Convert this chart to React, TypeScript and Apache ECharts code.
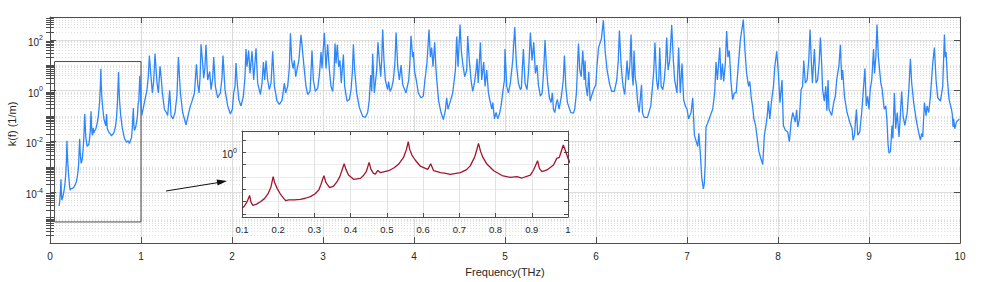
import React, { useEffect, useRef } from "react";
import * as echarts from "echarts";

// Spectrum: [frequency (THz), log10 of k(f) in 1/m]
const band0to1: [number, number][] = [
  [0.100, -4.54], [0.107, -4.35], [0.114, -4.0], [0.121, -3.49], [0.125, -4.05], [0.130, -4.3], [0.140, -4.2],
  [0.151, -4.0], [0.162, -3.75], [0.172, -3.35], [0.180, -2.8], [0.186, -1.97], [0.190, -2.45], [0.197, -2.92],
  [0.206, -3.38], [0.215, -3.73], [0.221, -3.92], [0.229, -3.86], [0.245, -3.85], [0.261, -3.81], [0.275, -3.72],
  [0.289, -3.59], [0.302, -3.35], [0.312, -3.05], [0.318, -2.6], [0.326, -1.89], [0.332, -2.46], [0.342, -2.86],
  [0.353, -2.73], [0.362, -2.4], [0.370, -1.97], [0.376, -1.45], [0.382, -0.92], [0.387, -1.38], [0.394, -1.84],
  [0.408, -2.19], [0.427, -2.11], [0.436, -1.85], [0.443, -1.57], [0.451, -0.81], [0.456, -1.38], [0.463, -1.7],
  [0.468, -1.76], [0.475, -1.46], [0.482, -1.65], [0.505, -1.49], [0.520, -1.25], [0.532, -0.97], [0.546, -0.41],
  [0.554, 0.24], [0.559, 0.86], [0.563, 0.24], [0.569, -0.22], [0.578, -0.62], [0.592, -1.11], [0.613, -1.38],
  [0.621, -0.92], [0.629, -1.49], [0.648, -1.65], [0.659, -1.68], [0.675, -1.78], [0.703, -1.65], [0.720, -1.4],
  [0.730, -1.1], [0.742, -0.41], [0.748, 0.19], [0.753, 0.73], [0.758, 0.14], [0.765, -0.41], [0.776, -0.95],
  [0.795, -1.49], [0.818, -1.88], [0.841, -2.03], [0.859, -1.97], [0.873, -2.08], [0.896, -1.84], [0.905, -1.43],
  [0.916, -0.68], [0.921, -1.3], [0.928, -1.57], [0.942, -1.43], [0.960, -1.03], [0.969, -0.49], [0.976, -0.41],
  [0.981, 0.05], [0.987, 0.59], [0.994, 0.05], [1.000, -0.49],
];
const band1to2: [number, number][] = [
  [1.008, -0.98], [1.037, -0.47], [1.066, 0.04], [1.080, 0.55], [1.092, 1.38], [1.110, 0.55], [1.125, -0.09],
  [1.140, 0.4], [1.154, 1.45], [1.176, 0.3], [1.191, -0.09], [1.209, 0.96], [1.224, 0.42], [1.235, -0.09],
  [1.257, -0.73], [1.279, -0.86], [1.293, -0.98], [1.315, 0.01], [1.330, -0.98], [1.352, -1.11], [1.374, -0.86],
  [1.395, -0.2], [1.411, 1.32], [1.433, -0.09], [1.458, -0.86], [1.495, -1.35], [1.521, -0.92], [1.543, -0.6],
  [1.561, -0.41], [1.587, -0.09], [1.609, 1.04], [1.624, 0.23], [1.638, -0.09], [1.650, 0.6], [1.660, 1.83],
  [1.675, 1.19], [1.689, 0.49], [1.702, 0.9], [1.714, 1.81], [1.733, 0.42], [1.755, 0.75], [1.770, 0.04],
  [1.788, 0.5], [1.799, 1.32], [1.817, 0.17], [1.843, -0.28], [1.872, -0.09], [1.890, 0.5], [1.901, 1.38],
  [1.923, 0.04], [1.953, -0.6], [1.982, -0.92],
];
const band2to3: [number, number][] = [
  [2.004, -0.73], [2.019, -0.09], [2.033, 0.17], [2.044, 1.09], [2.055, 0.42], [2.074, -0.35], [2.099, -0.6],
  [2.125, -0.22], [2.142, 0.5], [2.154, 1.64], [2.165, 0.94], [2.183, 1.58], [2.198, 0.68], [2.220, 1.55],
  [2.238, 0.42], [2.264, 1.67], [2.282, 0.3], [2.312, -0.15], [2.330, 0.3], [2.345, 1.13], [2.359, 0.42],
  [2.374, 1.19], [2.392, 0.42], [2.410, 0.04], [2.429, 0.3], [2.447, 1.55], [2.466, 0.17], [2.495, -0.41],
  [2.520, -0.54], [2.550, -0.38], [2.576, 0.3], [2.590, -0.09], [2.612, 0.17], [2.630, 0.9], [2.642, 2.26],
  [2.656, 1.19], [2.671, 0.87], [2.685, 1.19], [2.700, 0.55], [2.735, 1.2], [2.758, 2.2], [2.795, 0.81],
  [2.813, 0.17], [2.832, -0.15], [2.858, -0.03], [2.879, 1.58], [2.894, 0.42], [2.916, -0.03], [2.942, 0.1],
  [2.960, 0.62], [2.978, 1.52], [2.989, 0.87],
];
const band3to4: [number, number][] = [
  [3.015, 2.28], [3.033, 0.87], [3.051, 1.83], [3.070, 0.81], [3.088, 0.17], [3.106, -0.03], [3.120, 0.6],
  [3.132, 1.86], [3.143, 1.07], [3.157, 1.81], [3.172, 0.94], [3.186, 1.19], [3.201, 0.3], [3.224, 1.42],
  [3.238, 0.17], [3.264, -0.41], [3.290, -0.35], [3.308, 0.04], [3.322, 0.7], [3.334, 1.83], [3.348, 0.81],
  [3.370, -0.09], [3.400, -0.67], [3.436, -1.01], [3.466, -1.05], [3.491, -0.86], [3.509, -0.35], [3.524, 0.62],
  [3.535, -0.03], [3.546, 1.45], [3.564, -0.09], [3.590, 0.81], [3.604, 1.9], [3.619, 1.19], [3.634, 0.55],
  [3.645, 1.2], [3.656, 2.41], [3.670, 1.19], [3.685, 0.42], [3.710, 0.04], [3.721, 0.36], [3.736, -0.03],
  [3.754, 0.1], [3.773, 0.42], [3.790, 1.1], [3.803, 2.29], [3.821, 0.94], [3.839, 0.42], [3.858, 1.01],
  [3.876, 0.23], [3.912, -0.09], [3.942, 0.42], [3.955, 1.1], [3.967, 2.16], [3.985, 1.32], [3.993, 1.52],
];
const band4to5: [number, number][] = [
  [4.007, 0.74], [4.025, 0.42], [4.047, -0.09], [4.077, -0.28], [4.102, -0.22], [4.120, 0.42], [4.142, 1.07],
  [4.165, 2.41], [4.180, 1.32], [4.194, 1.7], [4.209, 0.94], [4.227, 1.9], [4.242, 0.81], [4.253, 0.3],
  [4.271, -0.41], [4.297, -0.86], [4.322, -1.14], [4.344, -0.79], [4.359, -0.28], [4.373, -0.73], [4.395, -0.47],
  [4.425, -0.09], [4.455, 0.81], [4.470, 2.13], [4.484, 0.94], [4.506, 2.6], [4.520, 1.58], [4.535, 1.07],
  [4.557, 0.55], [4.579, 0.81], [4.590, 2.15], [4.608, 1.19], [4.627, 0.42], [4.645, -0.03], [4.664, 0.3],
  [4.682, 0.81], [4.693, 1.26], [4.705, 0.3], [4.730, 1.9], [4.744, 0.42], [4.766, 1.13], [4.781, 0.17],
  [4.799, 0.81], [4.818, -0.09], [4.836, -0.41], [4.855, -0.73], [4.866, -0.47], [4.884, -1.11], [4.902, -0.86],
  [4.920, -1.11], [4.939, -0.92], [4.957, -0.6], [4.979, 0.04], [4.994, 0.42],
];
const band5to6: [number, number][] = [
  [5.000, 1.64], [5.019, 0.17], [5.037, -0.09], [5.059, 0.3], [5.085, 1.2], [5.107, 2.5], [5.125, 1.07],
  [5.147, 0.3], [5.169, 0.04], [5.180, 0.1], [5.202, 1.64], [5.220, 0.3], [5.242, 0.04], [5.260, 0.81],
  [5.279, 2.29], [5.297, 1.19], [5.316, 1.9], [5.334, 0.68], [5.352, 1.01], [5.367, 0.23], [5.389, -0.22],
  [5.408, -0.09], [5.425, 0.8], [5.440, 1.99], [5.455, 0.94], [5.469, 0.3], [5.488, -0.28], [5.506, -0.47],
  [5.521, -0.09], [5.532, -0.73], [5.547, -0.86], [5.565, -0.47], [5.576, -0.35], [5.594, -0.73], [5.620, -0.22],
  [5.640, 0.4], [5.653, 1.38], [5.668, 0.17], [5.686, -0.47], [5.723, -0.86], [5.752, -0.88], [5.766, -0.73],
  [5.785, -0.09], [5.807, 1.86], [5.822, 0.81], [5.837, 0.55], [5.855, 1.58], [5.870, 0.42], [5.880, 1.19],
  [5.888, 0.23], [5.906, -0.22], [5.921, 0.74], [5.935, -0.41], [5.961, -0.09], [5.980, 0.1], [5.998, 0.23],
];
const band6to7: [number, number][] = [
  [6.010, 0.94], [6.028, 1.7], [6.060, 2.05], [6.081, 2.77], [6.100, 1.58], [6.122, 0.81], [6.147, 0.3],
  [6.172, -0.03], [6.202, -0.03], [6.228, 0.42], [6.245, 1.2], [6.257, 2.37], [6.275, 1.07], [6.290, 0.42],
  [6.301, 0.1], [6.316, -0.15], [6.341, 1.19], [6.356, 0.42], [6.372, 1.0], [6.385, 2.21], [6.398, 0.6],
  [6.408, 0.2], [6.418, 1.58], [6.430, 0.55], [6.445, 0.17], [6.458, -0.47], [6.474, -0.86], [6.500, 0.23],
  [6.510, -0.86], [6.529, -1.05], [6.566, -1.05], [6.602, -0.6], [6.621, 0.17], [6.635, 0.8], [6.648, 1.9],
  [6.666, 0.42], [6.680, 0.04], [6.690, 0.42], [6.700, 1.7], [6.716, 0.17], [6.734, 0.04], [6.750, 0.42],
  [6.765, 1.1], [6.777, 2.09], [6.792, 0.81], [6.810, 1.19], [6.832, 2.58], [6.850, 1.19], [6.864, 0.42],
  [6.890, -0.09], [6.908, 1.7], [6.926, -0.09], [6.945, 1.07], [6.963, -0.35], [6.981, -0.6],
];
const band7to8: [number, number][] = [
  [7.000, -0.73], [7.018, -1.11], [7.045, -0.85], [7.063, -0.28], [7.081, -1.75], [7.118, -2.2], [7.130, -1.68],
  [7.145, -2.39], [7.162, -3.42], [7.180, -3.87], [7.190, -3.67], [7.200, -2.91], [7.209, -1.43], [7.231, -1.24],
  [7.257, -0.98], [7.282, -0.73], [7.304, -0.09], [7.319, 1.13], [7.334, 0.42], [7.360, 1.7], [7.374, 0.42],
  [7.390, 1.07], [7.403, 0.36], [7.420, 1.0], [7.436, 2.35], [7.450, 1.32], [7.465, 1.58], [7.484, 0.3],
  [7.502, -0.35], [7.520, -0.09], [7.540, -0.09], [7.560, 0.81], [7.585, 1.96], [7.619, 2.8], [7.637, 1.58],
  [7.655, 0.68], [7.677, 0.17], [7.690, 0.36], [7.706, -0.28], [7.720, -0.6], [7.735, -1.11], [7.754, -1.37],
  [7.772, -1.88], [7.790, -2.39], [7.810, -2.65], [7.832, -2.91], [7.850, -1.75], [7.868, -1.37], [7.885, -0.86],
  [7.894, -0.41], [7.910, -1.11], [7.927, -0.47], [7.950, 0.17], [7.965, 0.94], [7.986, 1.55],
];
const band8to9: [number, number][] = [
  [8.004, 0.68], [8.022, -0.47], [8.044, 0.42], [8.059, -1.37], [8.081, -1.56], [8.107, -1.63], [8.125, -2.01],
  [8.144, -1.24], [8.162, -0.86], [8.190, -1.24], [8.205, -0.75], [8.217, -1.43], [8.235, -1.11], [8.254, 0.04],
  [8.270, 0.17], [8.283, 1.19], [8.300, 0.3], [8.320, 0.42], [8.338, 1.2], [8.352, 2.41], [8.367, 1.07],
  [8.378, 0.3], [8.400, 1.64], [8.418, 0.3], [8.435, 0.42], [8.452, 1.1], [8.466, 2.09], [8.480, 1.07],
  [8.490, 0.04], [8.509, -0.41], [8.525, 0.17], [8.537, -0.79], [8.550, 0.42], [8.560, -0.73], [8.590, -0.98],
  [8.612, -0.47], [8.630, -0.22], [8.645, 0.42], [8.670, 1.0], [8.686, 1.81], [8.700, 0.42], [8.711, 0.81],
  [8.730, -0.22], [8.759, -0.86], [8.789, -1.24], [8.814, -1.5], [8.825, -1.95], [8.840, -1.75], [8.862, -0.73],
  [8.876, -1.75], [8.898, -1.63], [8.920, -0.86], [8.955, 0.87], [8.970, -0.6], [8.985, -0.22],
];
const band9to10: [number, number][] = [
  [9.000, -0.73], [9.013, 0.04], [9.030, 0.42], [9.050, 1.64], [9.060, 0.68], [9.075, 1.3], [9.088, 2.6],
  [9.103, 1.32], [9.130, 0.3], [9.145, 0.04], [9.167, -0.73], [9.185, -0.6], [9.196, -1.11], [9.210, -2.14],
  [9.220, -2.46], [9.236, -2.39], [9.253, -1.37], [9.262, -1.88], [9.279, -0.09], [9.293, -1.5], [9.310, -0.86],
  [9.330, -1.82], [9.342, -1.11], [9.359, -0.03], [9.374, -0.98], [9.394, -1.37], [9.420, -0.86], [9.440, 0.17],
  [9.455, 1.26], [9.469, 0.3], [9.491, -0.47], [9.517, -1.11], [9.545, -1.63], [9.565, -1.95], [9.580, -1.68],
  [9.590, -1.82], [9.609, -0.47], [9.627, -0.98], [9.638, -0.6], [9.656, -0.86], [9.675, -0.22], [9.700, 1.07],
  [9.719, 1.7], [9.737, 0.42], [9.755, -0.28], [9.785, -0.41], [9.810, 0.17], [9.829, 2.21], [9.838, 1.32],
  [9.847, 1.52], [9.862, 0.42], [9.880, -0.35], [9.906, -0.73], [9.915, -0.92], [9.924, -1.43], [9.930, -1.11],
  [9.943, -1.5], [9.960, -1.24], [9.993, -1.11],
];

// Axis settings
const mainYLabels = [1e-4, 1e-2, 1, 1e2];
const mainYMajor = [1e-4, 1e-2, 1, 1e2];
const insetYMajor = [1e-5, 1e-4, 1e-3, 1e-2, 1e-1, 1, 10];
const insetYLabels = [1];
const zoomBox = { x0: 0.05, x1: 1.0, y0: 6.8e-6, y1: 14 };

const FONT = "'Liberation Sans', Arial, Helvetica, sans-serif";
const TEXT = "#262626";
const AXIS = "#4d4d4d";
const MAJOR_GRID = "#dcdcdc";
const MINOR_GRID = "#dedede";

export default function App() {
  const ref = useRef<HTMLDivElement>(null);

  useEffect(() => {
    const chart = echarts.init(ref.current!, null, { renderer: "svg" });

    const spectrum = [
      ...band0to1, ...band1to2, ...band2to3, ...band3to4, ...band4to5,
      ...band5to6, ...band6to7, ...band7to8, ...band8to9, ...band9to10,
    ].map(([f, e]) => [f, Math.pow(10, e)]);

    const yMin = 1e-6;
    const yMax = Math.pow(10, 2.9);
    const minorVals: number[] = [];
    for (let e = -6; e <= 2; e++) {
      for (let m = 1; m <= 9; m++) {
        const v = m * Math.pow(10, e);
        if (m === 1 && e % 2 === 0) continue;
        if (v > yMin && v < yMax) minorVals.push(v);
      }
    }

    const supFormatter = (v: number) => {
      const e = Math.round(Math.log10(v));
      return `{b|10}{s|${e}}`;
    };
    const rich = {
      b: { fontSize: 10, color: TEXT, fontFamily: FONT, padding: [5, 0, 0, 0] },
      s: { fontSize: 7, color: TEXT, fontFamily: FONT, padding: [0, 0, 4, 0] },
    };

    const baseY = {
      type: "log" as const,
      gridIndex: 0,
      min: yMin,
      max: yMax,
      axisLabel: { show: false },
      splitLine: { show: false },
    };

    const option: any = {
      animation: false,
      backgroundColor: "#fff",
      textStyle: { fontFamily: FONT },
      grid: [
        { left: 50, right: 36, top: 17, bottom: 34, containLabel: false },
        {
          left: 242, top: 131, width: 326, height: 86, show: true,
          backgroundColor: "#ffffff", borderWidth: 0, z: 5,
        },
      ],
      xAxis: [
        {
          type: "value", gridIndex: 0, min: 0, max: 10, interval: 1, position: "bottom",
          axisLine: { show: true, onZero: false, lineStyle: { color: AXIS, width: 1 } },
          axisTick: { show: true, inside: true, length: 6, lineStyle: { color: AXIS } },
          axisLabel: { color: TEXT, fontSize: 10, margin: 8, fontFamily: FONT },
          splitLine: { show: true, lineStyle: { color: MAJOR_GRID, width: 1 } },
          name: "Frequency(THz)", nameLocation: "middle", nameGap: 20,
          nameTextStyle: { color: TEXT, fontSize: 11, fontFamily: FONT },
        },
        {
          type: "value", gridIndex: 0, min: 0, max: 10, interval: 1, position: "top",
          axisLine: { show: true, onZero: false, lineStyle: { color: AXIS, width: 1 } },
          axisTick: { show: true, inside: true, length: 6, lineStyle: { color: AXIS } },
          axisLabel: { show: false }, splitLine: { show: false },
        },
        {
          type: "value", gridIndex: 1, min: 0.1, max: 1, interval: 0.1, position: "bottom", z: 6,
          axisLine: { show: true, onZero: false, lineStyle: { color: AXIS, width: 1 } },
          axisTick: { show: true, inside: true, length: 4, lineStyle: { color: AXIS } },
          axisLabel: {
            color: TEXT, fontSize: 9.5, margin: 7, fontFamily: FONT,
            formatter: (v: number) => String(Number(v.toFixed(1))),
          },
          splitLine: { show: true, lineStyle: { color: "#e2e2e2", width: 1 } },
        },
        {
          type: "value", gridIndex: 1, min: 0.1, max: 1, interval: 0.1, position: "top", z: 6,
          axisLine: { show: true, onZero: false, lineStyle: { color: AXIS, width: 1 } },
          axisTick: { show: true, inside: true, length: 4, lineStyle: { color: AXIS } },
          axisLabel: { show: false }, splitLine: { show: false },
        },
      ],
      yAxis: [
        {
          ...baseY, position: "left",
          axisLine: { show: true, onZero: false, lineStyle: { color: AXIS, width: 1 } },
          axisTick: { show: true, inside: true, length: 6, customValues: mainYMajor, lineStyle: { color: AXIS } },
          axisLabel: { show: true, customValues: mainYLabels, formatter: supFormatter, rich, margin: 7, color: TEXT },
          splitLine: { show: true, lineStyle: { color: MAJOR_GRID, width: 1 } },
        },
        {
          ...baseY, position: "left",
          axisLine: { show: false },
          axisTick: { show: true, inside: true, length: 4, customValues: minorVals, lineStyle: { color: AXIS } },
          splitLine: { show: true, lineStyle: { color: MINOR_GRID, width: 1, type: [1, 2] } },
        },
        {
          ...baseY, position: "right",
          axisLine: { show: true, onZero: false, lineStyle: { color: AXIS, width: 1 } },
          axisTick: { show: true, inside: true, length: 6, customValues: mainYMajor, lineStyle: { color: AXIS } },
        },
        {
          ...baseY, position: "right",
          axisLine: { show: false },
          axisTick: { show: true, inside: true, length: 4, customValues: minorVals, lineStyle: { color: AXIS } },
        },
        {
          type: "log", gridIndex: 1, min: Math.pow(10, -5.24), max: Math.pow(10, 1.73), position: "left", z: 6,
          axisLine: { show: true, onZero: false, lineStyle: { color: AXIS, width: 1 } },
          axisTick: { show: true, inside: true, length: 4, customValues: insetYMajor, lineStyle: { color: AXIS } },
          axisLabel: { show: true, customValues: insetYLabels, formatter: supFormatter, rich, margin: 5, color: TEXT },
          splitLine: { show: true, lineStyle: { color: "#ececec", width: 1 } },
        },
        {
          type: "log", gridIndex: 1, min: Math.pow(10, -5.24), max: Math.pow(10, 1.73), position: "right", z: 6,
          axisLine: { show: true, onZero: false, lineStyle: { color: AXIS, width: 1 } },
          axisTick: { show: true, inside: true, length: 4, customValues: insetYMajor, lineStyle: { color: AXIS } },
          axisLabel: { show: false }, splitLine: { show: false },
        },
      ],
      series: [
        {
          type: "line", xAxisIndex: 0, yAxisIndex: 0, data: spectrum,
          showSymbol: false, symbol: "none", z: 3,
          lineStyle: { color: "#2d86fb", width: 1.3 },
          markArea: {
            silent: true,
            itemStyle: { color: "rgba(0,0,0,0)", borderColor: "#4d4d4d", borderWidth: 1 },
            data: [[{ coord: [zoomBox.x0, zoomBox.y1] }, { coord: [zoomBox.x1, zoomBox.y0] }]],
          },
        },
        {
          type: "line", xAxisIndex: 2, yAxisIndex: 4, data: spectrum, clip: true,
          showSymbol: false, symbol: "none", z: 7,
          lineStyle: { color: "#a2142f", width: 1.3 },
        },
      ],
      graphic: [
        {
          type: "text", x: 12, y: 124, rotation: Math.PI / 2, z: 10,
          style: { text: "k(f) (1/m)", fill: TEXT, fontSize: 11, fontFamily: FONT, align: "center", verticalAlign: "middle" },
        },
        {
          type: "line", z: 10,
          shape: { x1: 166, y1: 191, x2: 218, y2: 182.6 },
          style: { stroke: "#111", lineWidth: 1 },
        },
        {
          type: "polygon", z: 10,
          shape: { points: [[227, 181], [216.6, 179.6], [217.6, 185.6]] },
          style: { fill: "#111" },
        },
      ],
    };

    chart.setOption(option);
    return () => chart.dispose();
  }, []);

  return (
    <div
      ref={ref}
      style={{ position: "fixed", left: 0, top: 0, width: 996, height: 282, background: "#fff" }}
    />
  );
}
